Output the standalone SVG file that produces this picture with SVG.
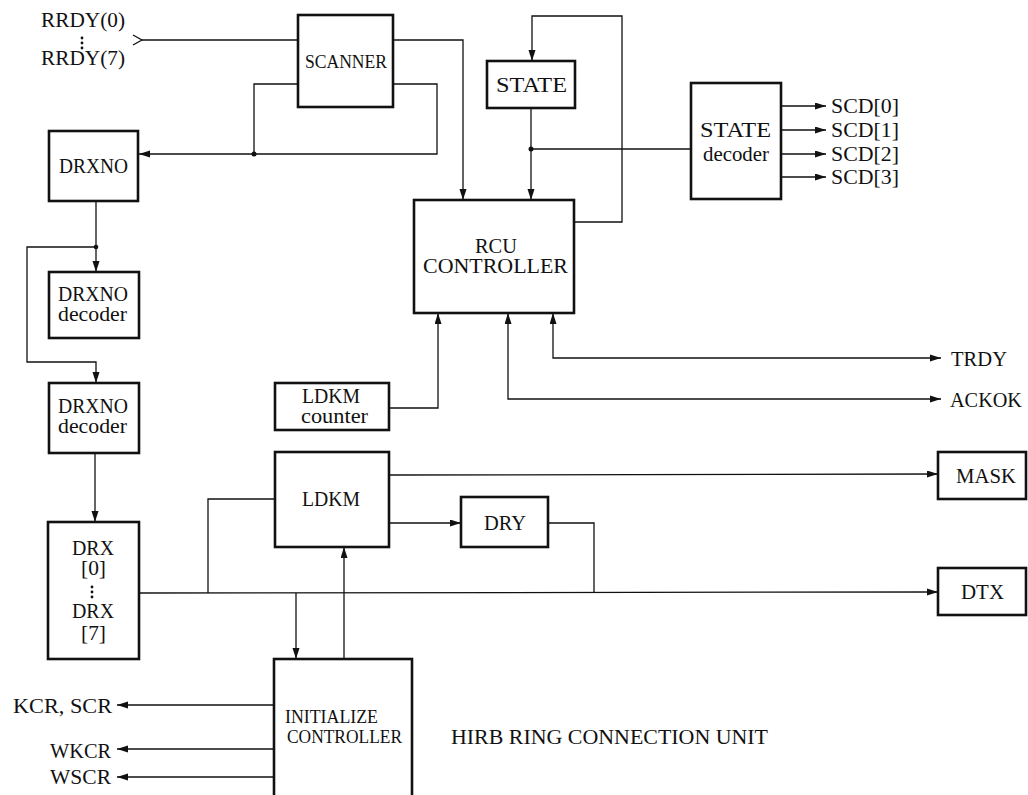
<svg xmlns="http://www.w3.org/2000/svg" width="1028" height="795" viewBox="0 0 1028 795">
<style>
  .box { fill: #fff; stroke: #111; stroke-width: 2.6; }
  .ln { fill: none; stroke: #111; stroke-width: 1.3; }
  .dot { fill: #111; }
  text { font-family: "Liberation Serif", "Times New Roman", serif; font-size: 20px; fill: #111; }
  .sm { font-size: 19px; }
</style>
<defs>
  <marker id="ah" markerUnits="userSpaceOnUse" markerWidth="12" markerHeight="8" refX="11" refY="3.5" orient="auto">
    <path d="M0,0 L11,3.5 L0,7 z" fill="#111"/>
  </marker>
  <marker id="as" markerUnits="userSpaceOnUse" markerWidth="12" markerHeight="8" refX="0" refY="3.5" orient="auto">
    <path d="M11,0 L0,3.5 L11,7 z" fill="#111"/>
  </marker>
</defs>
<rect width="1028" height="795" fill="#fff"/>

<g id="connectors">
  <!-- RRDY input -->
  <polyline class="ln" points="133,35 142,40 133,45" stroke-width="1.6"/>
  <line class="ln" x1="142" y1="40" x2="298" y2="40"/>
  <!-- SCANNER -> RCU -->
  <polyline class="ln" points="393,40 463,40 463,200" marker-end="url(#ah)"/>
  <!-- SCANNER loops -> DRXNO -->
  <polyline class="ln" points="298,84 254,84 254,154"/>
  <polyline class="ln" points="393,84 437,84 437,154 139,154" marker-end="url(#ah)"/>
  <circle cx="254" cy="154" r="2.5" class="dot"/>
  <!-- DRXNO -> decoders -->
  <line class="ln" x1="96" y1="201" x2="96" y2="272" marker-end="url(#ah)"/>
  <circle cx="96" cy="247" r="2.3" class="dot"/>
  <polyline class="ln" points="96,247 27,247 27,362 96,362 96,383" marker-end="url(#ah)"/>
  <!-- decoder2 -> DRX -->
  <line class="ln" x1="95" y1="453" x2="95" y2="522" marker-end="url(#ah)"/>
  <!-- bus to DTX -->
  <line class="ln" x1="139" y1="593" x2="938" y2="592" marker-end="url(#ah)"/>
  <polyline class="ln" points="208,593 208,499 275,499"/>
  <line class="ln" x1="296" y1="593" x2="296" y2="659" marker-end="url(#ah)"/>
  <line class="ln" x1="344" y1="659" x2="344" y2="547" marker-end="url(#ah)"/>
  <!-- LDKM outputs -->
  <line class="ln" x1="389" y1="475" x2="938" y2="474" marker-end="url(#ah)"/>
  <line class="ln" x1="389" y1="523" x2="461" y2="523" marker-end="url(#ah)"/>
  <polyline class="ln" points="548,523 594,523 594,592"/>
  <!-- STATE -> RCU and decoder -->
  <line class="ln" x1="531" y1="108" x2="531" y2="200" marker-end="url(#ah)"/>
  <circle cx="531" cy="149" r="2.5" class="dot"/>
  <line class="ln" x1="531" y1="149" x2="691" y2="149"/>
  <!-- RCU -> STATE feedback -->
  <polyline class="ln" points="574,222 622,222 622,16 532,16 532,61" marker-end="url(#ah)"/>
  <!-- SCD outputs -->
  <line class="ln" x1="781" y1="106" x2="826" y2="106" marker-end="url(#ah)"/>
  <line class="ln" x1="781" y1="130" x2="826" y2="130" marker-end="url(#ah)"/>
  <line class="ln" x1="781" y1="154" x2="826" y2="154" marker-end="url(#ah)"/>
  <line class="ln" x1="781" y1="177" x2="826" y2="177" marker-end="url(#ah)"/>
  <!-- RCU bottom -->
  <polyline class="ln" points="390,408 438,408 438,313" marker-end="url(#ah)"/>
  <polyline class="ln" points="941,399 508,399 508,313" marker-start="url(#as)" marker-end="url(#ah)"/>
  <polyline class="ln" points="941,358 553,358 553,313" marker-start="url(#as)" marker-end="url(#ah)"/>
  <!-- INIT outputs -->
  <line class="ln" x1="274" y1="705" x2="117" y2="705" marker-end="url(#ah)"/>
  <line class="ln" x1="274" y1="749" x2="117" y2="749" marker-end="url(#ah)"/>
  <line class="ln" x1="274" y1="777" x2="117" y2="777" marker-end="url(#ah)"/>
</g>

<g id="labels">
  <text x="41" y="27" textLength="84" lengthAdjust="spacingAndGlyphs">RRDY(0)</text>
  <circle cx="82" cy="38" r="1.4" class="dot"/>
  <circle cx="82" cy="43" r="1.4" class="dot"/>
  <circle cx="82" cy="48" r="1.4" class="dot"/>
  <text x="41" y="65" textLength="84" lengthAdjust="spacingAndGlyphs">RRDY(7)</text>
  <text x="831" y="113" textLength="68" lengthAdjust="spacingAndGlyphs">SCD[0]</text>
  <text x="831" y="137" textLength="68" lengthAdjust="spacingAndGlyphs">SCD[1]</text>
  <text x="831" y="161" textLength="68" lengthAdjust="spacingAndGlyphs">SCD[2]</text>
  <text x="831" y="184" textLength="68" lengthAdjust="spacingAndGlyphs">SCD[3]</text>
  <text x="951" y="366" textLength="56" lengthAdjust="spacingAndGlyphs">TRDY</text>
  <text x="950" y="407" textLength="72" lengthAdjust="spacingAndGlyphs">ACKOK</text>
  <text x="13" y="713" textLength="99" lengthAdjust="spacingAndGlyphs">KCR, SCR</text>
  <text x="50" y="758" textLength="61" lengthAdjust="spacingAndGlyphs">WKCR</text>
  <text x="50" y="784" textLength="61" lengthAdjust="spacingAndGlyphs">WSCR</text>
  <text x="451" y="744" textLength="317" lengthAdjust="spacingAndGlyphs">HIRB RING CONNECTION UNIT</text>
</g>

<g id="scanner">
  <rect class="box" x="298" y="15" width="95" height="92"/>
  <text class="sm" x="305" y="68" textLength="82" lengthAdjust="spacingAndGlyphs">SCANNER</text>
</g>
<g id="drxno">
  <rect class="box" x="49" y="131" width="89" height="70"/>
  <text x="59" y="173" textLength="69" lengthAdjust="spacingAndGlyphs">DRXNO</text>
</g>
<g id="state">
  <rect class="box" x="487" y="61" width="88" height="47"/>
  <text x="496" y="92" textLength="71" lengthAdjust="spacingAndGlyphs">STATE</text>
</g>
<g id="state-decoder">
  <rect class="box" x="691" y="83" width="90" height="116"/>
  <text x="700" y="137" textLength="71" lengthAdjust="spacingAndGlyphs">STATE</text>
  <text x="703" y="161" textLength="66" lengthAdjust="spacingAndGlyphs">decoder</text>
</g>
<g id="rcu-controller">
  <rect class="box" x="414" y="200" width="160" height="113"/>
  <text x="475" y="253" textLength="42" lengthAdjust="spacingAndGlyphs">RCU</text>
  <text x="423" y="273" textLength="145" lengthAdjust="spacingAndGlyphs">CONTROLLER</text>
</g>
<g id="drxno-decoder-1">
  <rect class="box" x="49" y="272" width="90" height="66"/>
  <text x="58" y="301" textLength="70" lengthAdjust="spacingAndGlyphs">DRXNO</text>
  <text x="58" y="321" textLength="69" lengthAdjust="spacingAndGlyphs">decoder</text>
</g>
<g id="drxno-decoder-2">
  <rect class="box" x="49" y="383" width="90" height="70"/>
  <text x="58" y="413" textLength="70" lengthAdjust="spacingAndGlyphs">DRXNO</text>
  <text x="58" y="433" textLength="69" lengthAdjust="spacingAndGlyphs">decoder</text>
</g>
<g id="ldkm-counter">
  <rect class="box" x="275" y="383" width="114" height="47"/>
  <text x="302" y="403" textLength="58" lengthAdjust="spacingAndGlyphs">LDKM</text>
  <text x="301" y="423" textLength="67" lengthAdjust="spacingAndGlyphs">counter</text>
</g>
<g id="ldkm">
  <rect class="box" x="275" y="452" width="114" height="95"/>
  <text x="302" y="506" textLength="58" lengthAdjust="spacingAndGlyphs">LDKM</text>
</g>
<g id="dry">
  <rect class="box" x="461" y="497" width="87" height="50"/>
  <text x="484" y="530" textLength="42" lengthAdjust="spacingAndGlyphs">DRY</text>
</g>
<g id="mask">
  <rect class="box" x="938" y="452" width="88" height="47"/>
  <text x="956" y="483" textLength="60" lengthAdjust="spacingAndGlyphs">MASK</text>
</g>
<g id="dtx">
  <rect class="box" x="938" y="568" width="88" height="47"/>
  <text x="961" y="599" textLength="43" lengthAdjust="spacingAndGlyphs">DTX</text>
</g>
<g id="drx">
  <rect class="box" x="48" y="522" width="91" height="137"/>
  <text x="72" y="555" textLength="42" lengthAdjust="spacingAndGlyphs">DRX</text>
  <text x="81" y="575" textLength="25" lengthAdjust="spacingAndGlyphs">[0]</text>
  <circle cx="92" cy="587" r="1.4" class="dot"/>
  <circle cx="92" cy="592" r="1.4" class="dot"/>
  <circle cx="92" cy="597" r="1.4" class="dot"/>
  <text x="72" y="618" textLength="42" lengthAdjust="spacingAndGlyphs">DRX</text>
  <text x="81" y="640" textLength="25" lengthAdjust="spacingAndGlyphs">[7]</text>
</g>
<g id="initialize-controller">
  <rect class="box" x="274" y="659" width="138" height="150"/>
  <text class="sm" x="285" y="723" textLength="93" lengthAdjust="spacingAndGlyphs">INITIALIZE</text>
  <text class="sm" x="287" y="743" textLength="115" lengthAdjust="spacingAndGlyphs">CONTROLLER</text>
</g>
</svg>
